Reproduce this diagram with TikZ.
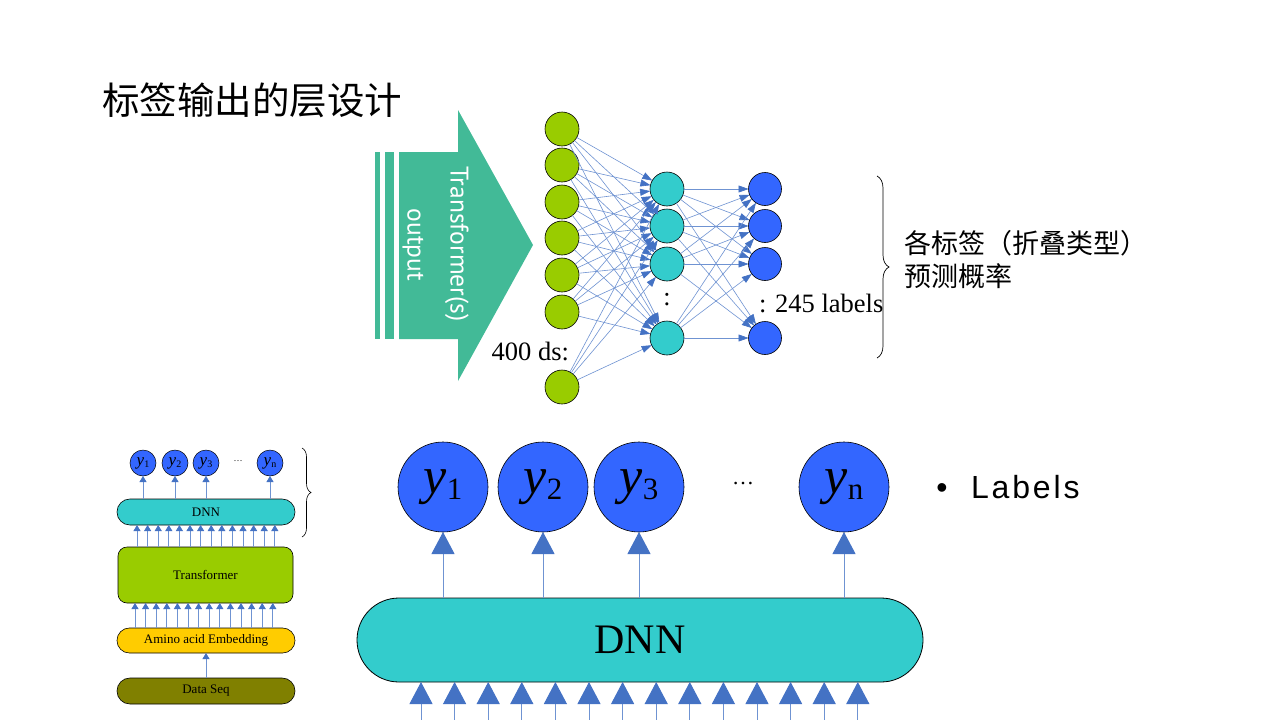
\documentclass[tikz,border=0pt]{standalone}
\usepackage{fontspec}
\setmainfont{Liberation Serif}
\newfontfamily\cjk{Noto Sans CJK SC}
\newfontfamily\arrowfont{PT Sans}
\newfontfamily\labfont[LetterSpace=9]{Liberation Sans}
\newfontfamily\bulfont{Liberation Sans}
\usetikzlibrary{arrows.meta,decorations.pathreplacing,calc}
\definecolor{cgreen}{HTML}{99CC00}
\definecolor{cteal}{HTML}{33CCCC}
\definecolor{cblue}{HTML}{3366FF}
\definecolor{cyellow}{HTML}{FFCC00}
\definecolor{colive}{HTML}{808000}
\definecolor{carrow}{HTML}{42BA97}
\definecolor{arrowblue}{HTML}{4472C4}
\definecolor{lineblue}{HTML}{6F93D2}
\newcommand\ylab[4]{\fontsize{#1}{#1}\selectfont\textit{y}\raisebox{#3}{\fontsize{#2}{#2}\selectfont #4}}
\begin{document}
\begin{tikzpicture}[x=1pt,y=-1pt,every node/.style={inner sep=0pt,outer sep=0pt},
  gnode/.style={circle,draw=black,line width=0.6pt,fill=cgreen,minimum size=34pt},
  hnode/.style={circle,draw=black,line width=0.6pt,fill=cteal,minimum size=34pt},
  onode/.style={circle,draw=black,line width=0.6pt,fill=cblue,minimum size=33pt},
  nnedge/.style={draw=lineblue,line width=0.6pt,-{Triangle[length=10pt,width=7pt,color=arrowblue]}},
  bigarr/.style={draw=lineblue,line width=1pt,-{Triangle[length=22pt,width=23pt,color=arrowblue]}},
  smallarr/.style={draw=lineblue,line width=0.8pt,-{Triangle[length=6pt,width=7pt,color=arrowblue]}},
  bigy/.style={circle,draw=black,line width=0.6pt,fill=cblue,minimum size=90pt},
  smally/.style={circle,draw=black,line width=0.5pt,fill=cblue,minimum size=26pt},
  pill/.style={draw=black,line width=0.6pt,font=\fontsize{13}{13}\selectfont}]
\useasboundingbox (0,0) rectangle (1280,720);
\fill[white] (0,0) rectangle (1280,720);

% title
\node[anchor=west,font=\cjk\fontsize{37.5}{37.5}\selectfont] (title) at (102,100) {标签输出的层设计};

% big arrow
\fill[carrow] (375,152) rectangle (380,339);
\fill[carrow] (385,152) rectangle (394,339);
\fill[carrow] (399,152) -- (458,152) -- (458,110) -- (533,245) -- (458,381) -- (458,339) -- (399,339) -- cycle;
\node[rotate=-90,text=white,font=\arrowfont\fontsize{25.5}{25.5}\selectfont] (tfs) at (457,244) {Transformer(s)};
\node[rotate=-90,text=white,font=\arrowfont\fontsize{25.5}{25.5}\selectfont] (outp) at (413,245) {output};

% neural net nodes
\foreach \i/\y in {1/129,2/165,3/202,4/238,5/275,6/312,7/387}{
  \node[gnode] (g\i) at (562,\y) {};
}
\foreach \i/\y in {1/189,2/226,3/264,4/338}{
  \node[hnode] (h\i) at (667,\y) {};
  \node[onode] (o\i) at (765,\y) {};
}
\foreach \i in {1,...,7}{\foreach \j in {1,...,4}{\draw[nnedge] (g\i) -- (h\j);}}
\foreach \i in {1,...,4}{\foreach \j in {1,...,4}{\draw[nnedge] (h\i) -- (o\j);}}
\node[font=\fontsize{26}{26}\selectfont] (hdots) at (667,300) {:};
\node[anchor=east,font=\fontsize{26.5}{26.5}\selectfont] (ds) at (569,351) {400 ds:};
\node[anchor=west,font=\fontsize{26.5}{26.5}\selectfont] (lab) at (759,303) {: 245 labels};

% brace and text
\draw[line width=0.7pt,decorate,decoration={brace,amplitude=12pt}] (877,176) -- (877,358);
\node[anchor=west,font=\cjk\fontsize{27}{27}\selectfont] (t1) at (904,243) {各标签（折叠类型）};
\node[anchor=west,font=\cjk\fontsize{27}{27}\selectfont] (t2) at (904,276) {预测概率};

% small diagram
\node[pill,fill=cteal,minimum width=178pt,minimum height=26pt,rounded corners=12.9pt] (sdnn) at (206,512) {DNN};
\node[pill,fill=cgreen,minimum width=175pt,minimum height=56pt,rounded corners=9pt] (str) at (205.5,575) {Transformer};
\node[pill,fill=cyellow,minimum width=178pt,minimum height=25pt,rounded corners=12.4pt] (semb) at (206,640.5) {Amino acid Embedding};
\node[pill,fill=colive,minimum width=178pt,minimum height=26pt,rounded corners=12.9pt] (sdata) at (206,691) {Data Seq};
\foreach \i/\x/\s in {1/143/1,2/175/2,3/206/3,4/270/n}{
  \node[smally] (sy\i) at (\x,463) {\ylab{17}{10}{-2pt}{\s}};
  \draw[smallarr] (sy\i |- sdnn.north) -- (sy\i);
}
\node[font=\fontsize{9}{9}\selectfont] (sdots) at (238,461) {…};
\foreach \i in {0,...,13}{
  \coordinate (ca\i) at ({137+\i*10.6},0);
  \draw[smallarr] (ca\i |- str.north) -- (ca\i |- sdnn.south);
  \coordinate (cb\i) at ({135+\i*10.6},0);
  \draw[smallarr] (cb\i |- semb.north) -- (cb\i |- str.south);
}
\draw[smallarr] (sdata) -- (semb);
\draw[line width=0.6pt,decorate,decoration={brace,amplitude=9pt}] (302,448) -- (302,537);

% big diagram
\node[draw=black,line width=0.8pt,fill=cteal,minimum width=566pt,minimum height=84pt,rounded corners=41.9pt,font=\fontsize{42}{42}\selectfont] (dnn) at (640,640) {DNN};
\foreach \i/\x/\s in {1/443/1,2/543/2,3/639/3,4/844/n}{
  \node[bigy] (y\i) at (\x,487) {\ylab{52}{31}{-6pt}{\s}};
  \draw[bigarr] (y\i |- dnn.north) -- (y\i);
}
\node[font=\fontsize{22}{22}\selectfont] (bdots) at (743,484) {…};
\foreach \i in {0,...,13}{
  \coordinate (bin\i) at ({421+\i*33.6},722);
  \draw[bigarr] (bin\i) -- (bin\i |- dnn.south);
}

% Labels bullet
\node[font=\bulfont\fontsize{32}{32}\selectfont] (bul) at (942,491) {•};
\node[anchor=west,font=\labfont\fontsize{32}{32}\selectfont] (labels) at (971,487) {Labels};
\end{tikzpicture}
\end{document}
